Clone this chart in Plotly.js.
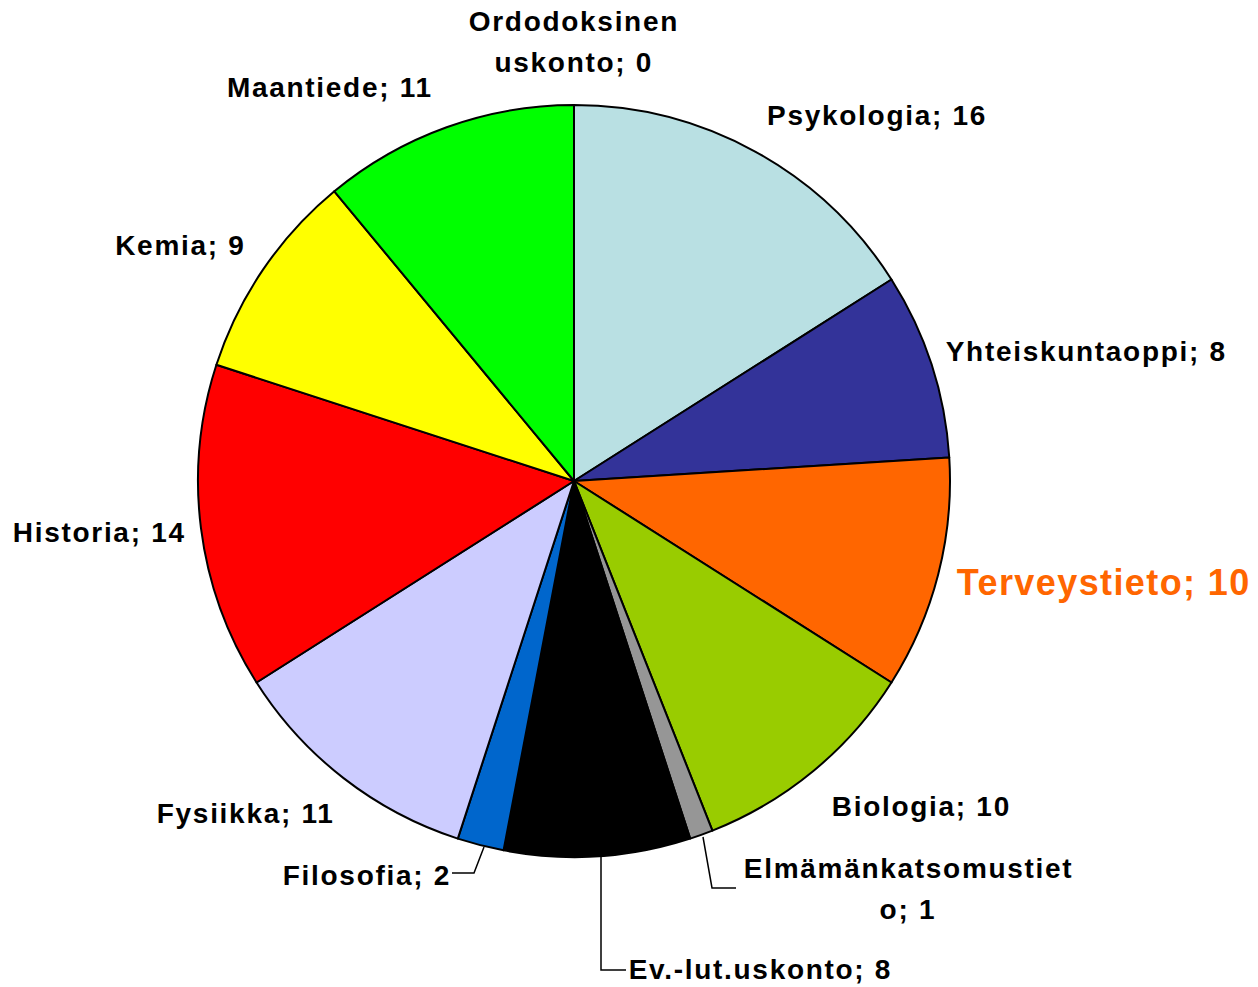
<!DOCTYPE html>
<html>
<head>
<meta charset="utf-8">
<script src="https://cdn.plot.ly/plotly-3.0.1.min.js"></script>
<style>
html,body{margin:0;padding:0;background:#fff;}
#chart{width:1258px;height:987px;}
.annotation text{letter-spacing:1.7px;}
.annotation[data-index="2"] text{letter-spacing:1.4px;}
</style>
</head>
<body>
<div id="chart"></div>
<script>
// Data (clockwise from 12 o'clock)
const categories = ['Psykologia', 'Yhteiskuntaoppi', 'Terveystieto', 'Biologia', 'Elmämänkatsomustieto',
  'Ev.-lut.uskonto', 'Filosofia', 'Fysiikka', 'Historia', 'Kemia', 'Maantiede', 'Ordodoksinen uskonto'];
const values = [16, 8, 10, 10, 1, 8, 2, 11, 14, 9, 11, 0];
const colors = ['#B9E0E3', '#333399', '#FF6600', '#99CC00', '#969696', '#000000',
  '#0066CC', '#CCCCFF', '#FF0000', '#FFFF00', '#00FF00', '#FFFFFF'];

const W = 1258, H = 987;
const px = x => x / W;
const py = y => 1 - y / H;

// label placement (pixels, centre of first line) and wrapping
const labelPos = [
  [877, 115], [1086, 351], [1103, 582], [921, 806], [908, 868],
  [760, 969], [367, 875], [245, 813], [99, 532], [180, 245], [330, 88], [574, 22]
];
const wrapAt = {4: 19, 11: 12};
const bigLabel = {2: true};
const lineGap = 41;

const annotations = [];
categories.forEach((c, i) => {
  const full = categories[i] + '; ' + values[i];
  const lines = wrapAt[i] !== undefined
    ? [full.slice(0, wrapAt[i]), full.slice(wrapAt[i]).trim()]
    : [full];
  lines.forEach((ln, k) => {
    annotations.push({
      xref: 'paper', yref: 'paper',
      x: px(labelPos[i][0]), y: py(labelPos[i][1] + k * lineGap),
      xanchor: 'center', yanchor: 'middle',
      text: '<b>' + ln + '</b>', showarrow: false, align: 'center',
      font: {
        family: 'Liberation Sans, Arial, sans-serif',
        size: bigLabel[i] ? 36 : 28,
        color: bigLabel[i] ? '#FF6600' : '#000000'
      }
    });
  });
});

function pathOf(pts) {
  return pts.map((p, k) => (k ? 'L ' : 'M ') + px(p[0]) + ' ' + py(p[1])).join(' ');
}
const leaders = [
  [[452, 873], [474, 873], [484, 847]],
  [[601, 857], [601, 970], [626, 970]],
  [[703, 837], [712, 888], [736, 888]]
];
const shapes = leaders.map(pts => ({
  type: 'path', xref: 'paper', yref: 'paper', path: pathOf(pts),
  line: {color: '#000000', width: 1.5}
}));

const trace = {
  type: 'pie',
  labels: categories,
  values: values,
  sort: false,
  direction: 'clockwise',
  rotation: 0,
  textinfo: 'none',
  hoverinfo: 'label+value',
  marker: {colors: colors, line: {color: '#000000', width: 2}},
  domain: {x: [px(198), px(950)], y: [py(857), py(105)]},
  showlegend: false
};

const layout = {
  width: W, height: H,
  margin: {l: 0, r: 0, t: 0, b: 0},
  paper_bgcolor: '#ffffff',
  showlegend: false,
  annotations: annotations,
  shapes: shapes
};

Plotly.newPlot('chart', [trace], layout, {displayModeBar: false, staticPlot: true});
</script>
</body>
</html>
